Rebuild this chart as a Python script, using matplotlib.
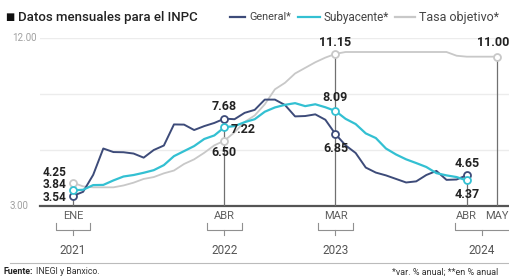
import matplotlib.pyplot as plt
from matplotlib.lines import Line2D

plt.rcParams['font.family'] = ['Roboto', 'DejaVu Sans']

# monthly index: 0 = ENE 2021
meses = list(range(40))
general = [3.54, 3.76, 4.67, 6.08, 5.89, 5.88, 5.81, 5.59, 6.00, 6.24, 7.37, 7.36,
           7.07, 7.28, 7.45, 7.68, 7.65, 7.99, 8.15, 8.70, 8.70, 8.41, 7.80, 7.82,
           7.91, 7.62, 6.85, 6.25, 5.84, 5.06, 4.79, 4.64, 4.45, 4.26, 4.32, 4.66,
           4.88, 4.40, 4.42, 4.65]
subyacente = [3.84, 3.87, 4.12, 4.13, 4.37, 4.58, 4.66, 4.78, 4.92, 5.19, 5.67, 5.94,
              6.21, 6.59, 6.78, 7.22, 7.28, 7.49, 7.65, 8.05, 8.28, 8.42, 8.51, 8.35,
              8.45, 8.29, 8.09, 7.67, 7.39, 6.89, 6.64, 6.08, 5.76, 5.50, 5.30, 5.09,
              4.76, 4.64, 4.55, 4.37]
tasa_x = list(range(40)) + [42]
tasa = [4.25, 4.05, 4.00, 4.00, 4.00, 4.10, 4.25, 4.45, 4.55, 4.75, 4.90, 5.25,
        5.50, 5.85, 6.25, 6.50, 6.95, 7.50, 7.85, 8.45, 9.25, 9.60, 10.10, 10.40,
        10.70, 10.95, 11.15, 11.25, 11.25, 11.25, 11.25, 11.25, 11.25, 11.25, 11.25, 11.25,
        11.25, 11.25, 11.05, 11.00, 11.00]

tick_pos = [0, 15, 26, 39, 42]
tick_lab = ['ENE', 'ABR', 'MAR', 'ABR', 'MAY']
anios = ['2021', '2022', '2023', '2024']
anio_pos = [0, 15, 26, 40.5]
anio_span = [(-1.7, 1.7), (13.3, 16.7), (24.3, 27.7), (37.8, 43.5)]

puntos_gen = [(0, 3.54), (15, 7.68), (26, 6.85), (39, 4.65)]
puntos_sub = [(0, 3.84), (15, 7.22), (26, 8.09), (39, 4.37)]
puntos_tasa = [(0, 4.25), (15, 6.50), (26, 11.15), (42, 11.00)]
vert_top = [3.54, 7.68, 11.15, 4.65, 11.00]

c_gen = '#3d4b79'
c_sub = '#33c0d2'
c_tasa = '#c8c8c8'

W, H = 510, 279
fig = plt.figure(figsize=(W / 100, H / 100), dpi=100)


def px(x, y):
    return x / W, 1 - y / H


ax = fig.add_axes([40 / W, 1 - 206 / H, 470 / W, 168 / H])
ax.set_xlim(-3.27, 43.29)
ax.set_ylim(3, 12)
ax.axis('off')

for g in [6, 9, 12]:
    ax.axhline(g, color='#ececec', lw=1.0, zorder=0)
ax.axhline(3, color='#555555', lw=1.6, zorder=1, clip_on=False)

ax.vlines(tick_pos, 3, vert_top, color='#707070', lw=0.9, zorder=1)

ax.plot(tasa_x, tasa, color=c_tasa, lw=1.3, zorder=2)
ax.plot(meses, general, color=c_gen, lw=1.4, zorder=3)
ax.plot(meses, subyacente, color=c_sub, lw=1.6, zorder=4)

for pts, c in [(puntos_tasa, c_tasa), (puntos_gen, c_gen), (puntos_sub, c_sub)]:
    ax.plot([p[0] for p in pts], [p[1] for p in pts], 'o', ms=5, mfc='white',
            mec=c, mew=1.3, zorder=5, clip_on=False)

lab = dict(fontsize=9, fontweight='bold', color='#222222', zorder=6)
# stacked labels at ENE 2021
for t, yv in [('4.25', 4.82), ('3.84', 4.14), ('3.54', 3.48)]:
    ax.text(-0.6, yv, t, ha='right', va='center', fontsize=8.5, fontweight='bold',
            color='#222222', zorder=6)
ax.annotate('7.68', (15, 7.68), xytext=(0, 12), textcoords='offset pixels', ha='center', va='center', **lab)
ax.annotate('7.22', (15, 7.22), xytext=(6, -2), textcoords='offset pixels', ha='left', va='center', **lab)
ax.annotate('6.50', (15, 6.50), xytext=(0, -12), textcoords='offset pixels', ha='center', va='center', **lab)
ax.annotate('11.15', (26, 11.15), xytext=(0, 11), textcoords='offset pixels', ha='center', va='center', **lab)
ax.annotate('8.09', (26, 8.09), xytext=(0, 13), textcoords='offset pixels', ha='center', va='center', **lab)
ax.annotate('6.85', (26, 6.85), xytext=(0, -14), textcoords='offset pixels', ha='center', va='center', **lab)
ax.annotate('4.65', (39, 4.65), xytext=(0, 12), textcoords='offset pixels', ha='center', va='center', **lab)
ax.annotate('4.37', (39, 4.37), xytext=(0, -14), textcoords='offset pixels', ha='center', va='center', **lab)
ax.annotate('11.00', (42, 11.00), xytext=(-4, 14), textcoords='offset pixels', ha='center', va='center', **lab)

fig.text(*px(12, 38), '12.00', fontsize=7, color='#a0a0a0', va='center', ha='left')
fig.text(*px(10, 206), '3.00', fontsize=7, color='#a0a0a0', va='center', ha='left')

tr = ax.get_xaxis_transform()
for p, t in zip(tick_pos, tick_lab):
    ax.text(p, -0.06, t, transform=tr, fontsize=8, color='#606060', ha='center', va='center')
for (a, b), t, p in zip(anio_span, anios, anio_pos):
    yb = -0.14
    ax.add_line(Line2D([a, a, b, b], [yb + 0.04, yb, yb, yb + 0.04], transform=tr,
                       color='#909090', lw=0.8, clip_on=False))
    ax.add_line(Line2D([p, p], [yb, yb - 0.035], transform=tr, color='#909090', lw=0.8, clip_on=False))
    ax.text(p, -0.265, t, transform=tr, fontsize=8.5, color='#555555', ha='center', va='center')

fig.text(*px(5, 17), '■', fontsize=7, color='#111111', va='center', ha='left')
fig.text(*px(18, 17), 'Datos mensuales para el INPC', fontsize=9.5, color='#222222',
         fontweight='medium', va='center', ha='left')
for x0, x1, c, t, fs in [(230, 245, c_gen, 'General*', 7.8), (298, 320, c_sub, 'Subyacente*', 8.5),
                         (395, 415, c_tasa, 'Tasa objetivo*', 9)]:
    fig.add_artist(Line2D([x0 / W, x1 / W], [1 - 17 / H] * 2, color=c, lw=1.6))
    fig.text(*px(x1 + 4, 17), t, fontsize=fs, color='#444444', va='center', ha='left')

fig.add_artist(Line2D([10 / W, 1], [1 - 263 / H] * 2, color='#bbbbbb', lw=0.8))
fig.text(*px(4, 272), 'Fuente:', fontsize=6.3, fontweight='bold', color='#222222', va='center', ha='left')
fig.text(*px(36, 272), 'INEGI y Banxico.', fontsize=6.3, color='#333333', va='center', ha='left')
fig.text(*px(392, 272), '*var. % anual; **en % anual', fontsize=6.5, color='#333333', va='center', ha='left')

fig.savefig('out.png', dpi=100, facecolor='white')
